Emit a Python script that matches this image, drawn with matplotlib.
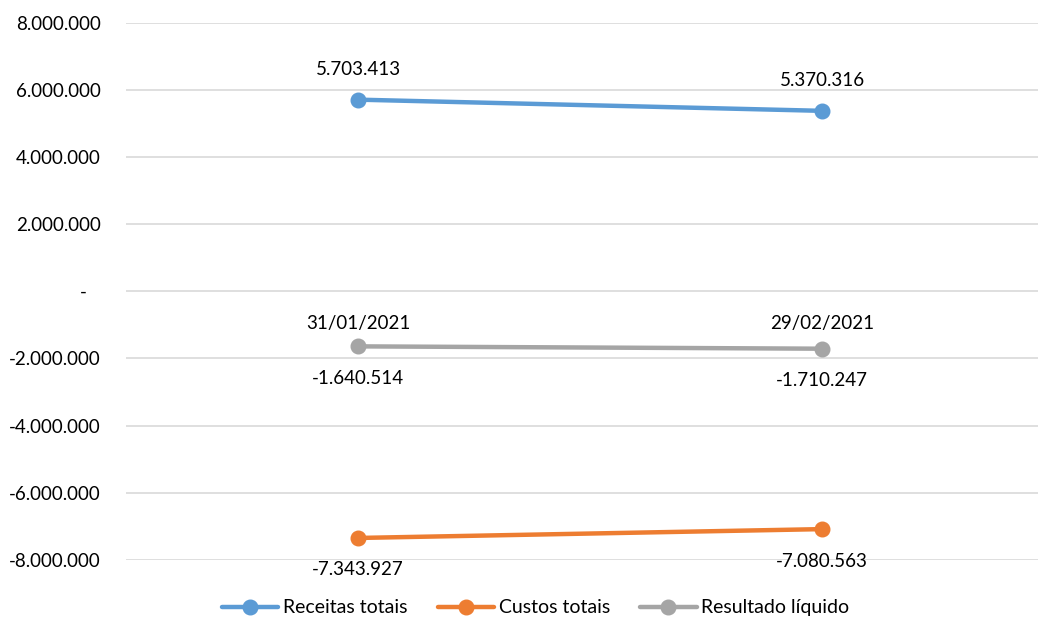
import matplotlib
matplotlib.use("Agg")
import matplotlib.pyplot as plt
from matplotlib.ticker import FuncFormatter

plt.rcParams['font.family'] = ['Lato', 'DejaVu Sans']

dates = ["31/01/2021", "29/02/2021"]
receitas = [5703413, 5370316]
custos = [-7343927, -7080563]
resultado = [-1640514, -1710247]

# name, values, colour, label offset (points)
series = [
    ("Receitas totais", receitas, "#5B9BD5", 22),
    ("Custos totais", custos, "#ED7D31", -23),
    ("Resultado líquido", resultado, "#A5A5A5", -23),
]


def br_fmt(v):
    s = f"{abs(int(round(v))):,}".replace(",", ".")
    return ("-" if v < 0 else "") + s


fig = plt.figure(figsize=(10.38, 6.19), dpi=100)
ax = fig.add_axes([126 / 1038, 59 / 619, 912 / 1038, 537.5 / 619])

x = list(range(len(dates)))
for name, vals, color, dy in series:
    ax.plot(x, vals, color=color, lw=3.2, marker='o', ms=10.5,
            solid_capstyle='round', label=name, zorder=3)
    for xi, v in zip(x, vals):
        ax.annotate(br_fmt(v), (xi, v), xytext=(0, dy), textcoords='offset points',
                    ha='center', va='center', fontsize=13.5, color='#000000')

# right edge of the plot is cut by the picture border
ax.set_xlim(-0.5, 1.4655)
ax.set_ylim(-8000000, 8000000)
ax.set_yticks(range(-8000000, 8000001, 2000000))
ax.yaxis.set_major_formatter(FuncFormatter(
    lambda v, p: "-   " if v == 0 else br_fmt(v)))
ax.grid(axis='y', color='#D9D9D9', lw=1.2)
ax.set_axisbelow(True)

ax.set_xticks(x)
ax.set_xticklabels(dates)
ax.spines['bottom'].set_position(('data', 0))
for sp in ax.spines.values():
    sp.set_visible(False)
ax.tick_params(axis='x', length=0, pad=17, labelsize=13.5)
ax.tick_params(axis='y', length=0, pad=18, labelsize=13.5)

fig.legend(loc='lower center', bbox_to_anchor=(0.516, -0.024), ncol=3, frameon=False,
           fontsize=14, handlelength=2.9, handletextpad=0.25, columnspacing=1.55)

fig.savefig("out.png", dpi=100)
